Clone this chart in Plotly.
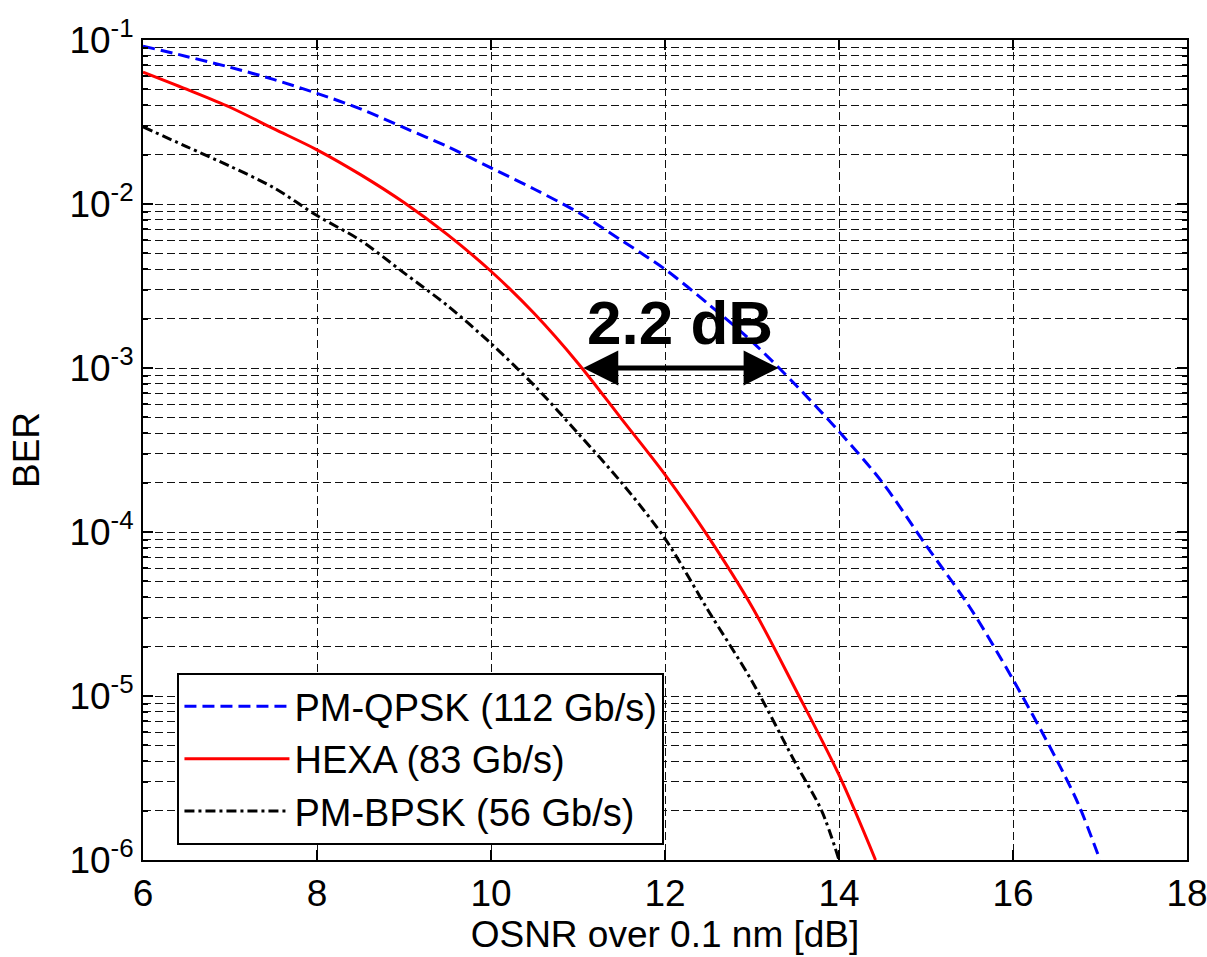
import numpy as np
import plotly.graph_objects as go

# ---- data ----
osnr_qpsk = [6, 6.5, 7, 7.5, 8, 8.5, 9, 9.5, 10, 10.5, 11, 11.5, 12, 12.5, 13, 13.5,
             14, 14.5, 15, 15.5, 16, 16.5, 16.75, 17.0]
ber_qpsk = [0.0918, 0.0794, 0.0682, 0.0575, 0.0473, 0.0380, 0.0292, 0.0224, 0.0166,
            0.0123, 0.0089, 0.0060, 0.0040, 0.00245, 0.00145, 0.00079, 0.00041,
            0.00020, 8.3e-5, 3.5e-5, 1.26e-5, 4.1e-6, 2.2e-6, 1.0e-6]

osnr_hexa = [6, 6.5, 7, 7.5, 8, 8.5, 9, 9.5, 10, 10.5, 11, 11.5, 12, 12.5, 13, 13.5,
             14, 14.42]
ber_hexa = [0.0637, 0.0501, 0.0389, 0.0288, 0.0214, 0.0151, 0.0102, 0.0065, 0.00389,
            0.00214, 0.00107, 0.00049, 0.000224, 9.3e-5, 3.5e-5, 1.1e-5, 3.3e-6, 1.0e-6]

osnr_bpsk = [6, 6.5, 7, 7.5, 8, 8.5, 9, 9.5, 10, 10.5, 11, 11.5, 12, 12.5, 13, 13.5,
             13.8, 14.0]
ber_bpsk = [0.0295, 0.0224, 0.0170, 0.0126, 0.0085, 0.0060, 0.0038, 0.0024, 0.00141,
            0.00078, 0.00040, 0.00020, 9.1e-5, 3.3e-5, 1.23e-5, 3.9e-6, 2.0e-6, 1.0e-6]

names = ["PM-QPSK (112 Gb/s)", "HEXA (83 Gb/s)", "PM-BPSK (56 Gb/s)"]

x_ticks = [6, 8, 10, 12, 14, 16, 18]
y_exps = [-6, -5, -4, -3, -2, -1]
y_tickvals = [10.0 ** e for e in y_exps]
y_ticktext = ["10<sup>%d</sup>" % e for e in y_exps]
ref_ber = 1e-3
penalty_label = "2.2 dB"

FONT = "Liberation Sans, Arial, sans-serif"

fig = go.Figure()
fig.add_trace(go.Scatter(x=osnr_qpsk, y=ber_qpsk, mode="lines", name=names[0],
                         line=dict(color="#0000ff", width=3, dash="12px,6px",
                                   shape="spline", smoothing=0.9)))
fig.add_trace(go.Scatter(x=osnr_hexa, y=ber_hexa, mode="lines", name=names[1],
                         line=dict(color="#ff0000", width=3, shape="spline", smoothing=0.9)))
fig.add_trace(go.Scatter(x=osnr_bpsk, y=ber_bpsk, mode="lines", name=names[2],
                         line=dict(color="#000000", width=3, dash="10px,4px,3px,4px",
                                   shape="spline", smoothing=0.9)))

# minor gridlines for the log axis
minor_vals = [m * 10.0 ** e for e in range(-6, -1) for m in range(2, 10)]

grid_dash = "8px,4px"
grid_col = "#111111"
grid_w = 1.4

fig.update_xaxes(range=[6, 18], tickvals=x_ticks, showgrid=True, gridcolor=grid_col,
                 griddash=grid_dash, gridwidth=grid_w, zeroline=False,
                 showline=True, linecolor="black", linewidth=2, mirror="ticks",
                 ticks="inside", ticklen=10, tickwidth=2, tickcolor="black",
                 ticklabeloverflow="allow", automargin=False,
                 tickfont=dict(family=FONT, size=37, color="black"),
                 title=dict(text="OSNR over 0.1 nm [dB]", standoff=4,
                            font=dict(family=FONT, size=37, color="black")))

fig.update_yaxes(type="log", range=[-6, -1], tickvals=y_tickvals, ticktext=y_ticktext,
                 showgrid=True, gridcolor=grid_col, griddash=grid_dash, gridwidth=grid_w,
                 zeroline=False, showline=True, linecolor="black", linewidth=2,
                 mirror="ticks", ticks="inside", ticklen=10, tickwidth=2, tickcolor="black",
                 ticklabeloverflow="allow", automargin=False,
                 minor=dict(tickvals=minor_vals, showgrid=True, gridcolor=grid_col,
                            griddash=grid_dash, gridwidth=grid_w, ticks="inside", ticklen=5,
                            tickcolor="black"),
                 tickfont=dict(family=FONT, size=37, color="black"),
                 title=dict(text="BER", standoff=18,
                            font=dict(family=FONT, size=37, color="black")))

# 2.2 dB arrow between the HEXA and PM-QPSK curves at BER = 1e-3
lg = np.log10(ref_ber)
x_left = float(np.interp(-lg, -np.log10(ber_hexa), osnr_hexa))
x_right = float(np.interp(-lg, -np.log10(ber_qpsk), osnr_qpsk))
fig.add_annotation(x=x_right, y=lg, ax=x_left, ay=lg, xref="x", yref="y",
                   axref="x", ayref="y", text="", showarrow=True,
                   arrowhead=2, arrowside="end+start", arrowsize=1.4, arrowwidth=5,
                   arrowcolor="black", standoff=0, startstandoff=0)
fig.add_annotation(x=(x_left + x_right) / 2, y=lg, xref="x", yref="y",
                   text="<b>%s</b>" % penalty_label,
                   showarrow=False, yanchor="bottom", yshift=9,
                   font=dict(family=FONT, size=62, color="black"))

fig.update_layout(
    width=1207, height=957,
    margin=dict(l=143, r=20, t=40, b=97),
    paper_bgcolor="white", plot_bgcolor="white",
    font=dict(family=FONT, size=37, color="black"),
    showlegend=True,
    legend=dict(x=0.033, y=0.228, xanchor="left", yanchor="top",
                bgcolor="white", bordercolor="black", borderwidth=2,
                font=dict(family=FONT, size=38, color="black"),
                itemwidth=105, tracegroupgap=0, entrywidth=500),
)

fig.write_html("out.html")
